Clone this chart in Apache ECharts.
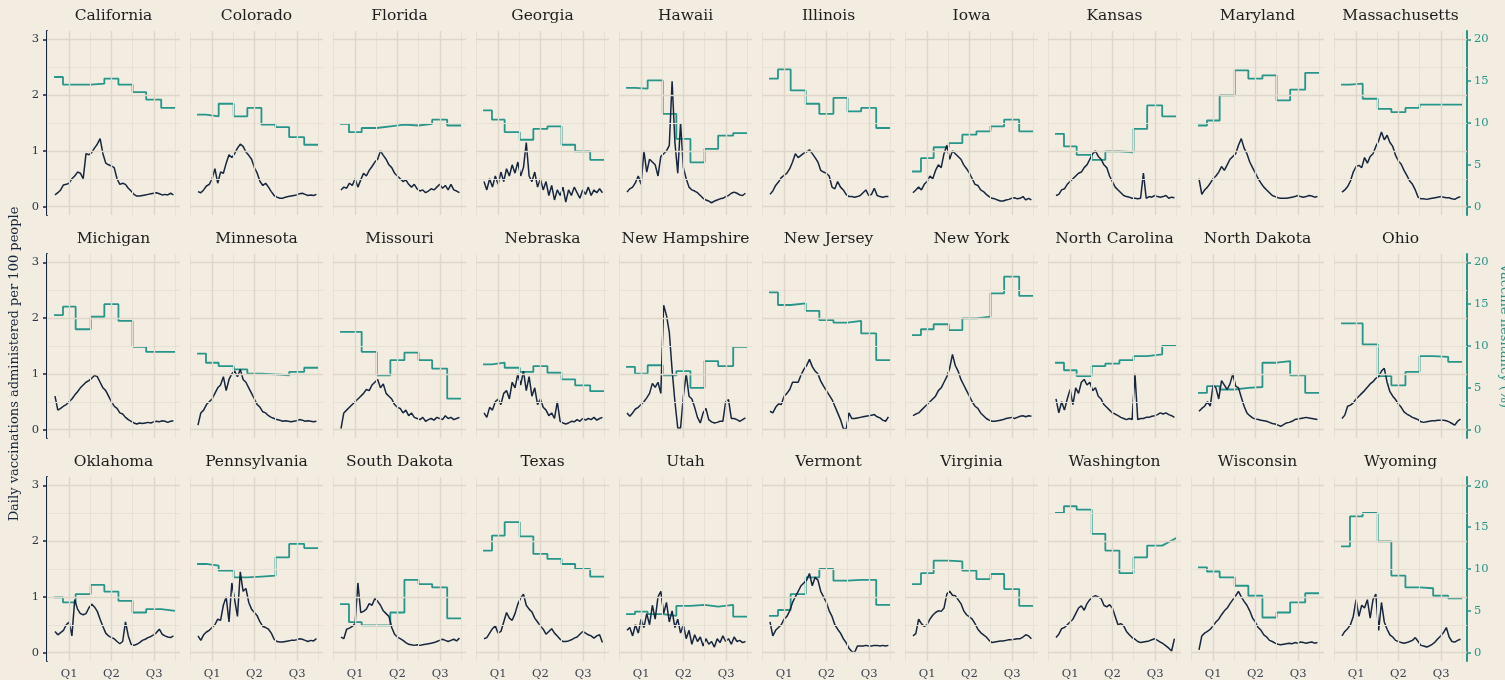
<!DOCTYPE html>
<html>
<head>
<meta charset="utf-8">
<title>Daily vaccinations by state</title>
<script src="https://cdn.jsdelivr.net/npm/echarts@6/dist/echarts.min.js"></script>
<style>
  html, body { margin: 0; padding: 0; background: #f2ece1; }
  #chart { width: 1505px; height: 680px; }
</style>
</head>
<body>
<div id="chart"></div>
<script>
// days since 1 Jan 2021 of each daily sample
const sampleDays = [-30, -24, -18, -12, -6, 0, 6, 12, 18, 24, 30, 36, 42, 48, 54, 60, 66, 72, 78, 84, 90,
  96, 102, 108, 114, 120, 126, 132, 138, 144, 150, 156, 162, 168, 174, 180, 186, 192, 198, 204, 210, 216, 222];
// survey wave boundaries (days) for the hesitancy steps
const waveDays = [-32, -13, 14, 46, 75, 105, 135, 164, 196, 226];
const quarterDays = [0, 90, 181];
const quarterLabels = ['Q1', 'Q2', 'Q3'];
const minorDays = [-46, 45, 135, 226];
const dailyTicks = [0, 1, 2, 3];
const dailyMinor = [0.5, 1.5, 2.5];
const shareTicks = [0, 5, 10, 15, 20];

const states = ['California', 'Colorado', 'Florida', 'Georgia', 'Hawaii', 'Illinois', 'Iowa', 'Kansas', 'Maryland', 'Massachusetts',
  'Michigan', 'Minnesota', 'Missouri', 'Nebraska', 'New Hampshire', 'New Jersey', 'New York', 'North Carolina', 'North Dakota', 'Ohio',
  'Oklahoma', 'Pennsylvania', 'South Dakota', 'Texas', 'Utah', 'Vermont', 'Virginia', 'Washington', 'Wisconsin', 'Wyoming'];

// daily vaccinations per 100 people (left axis) and hesitancy % per survey wave (right axis)
const californiaDaily = [0.21,0.25,0.3,0.39,0.4,0.42,0.5,0.55,0.62,0.6,0.5,0.95,0.93,0.97,1.05,1.12,1.22,0.95,0.78,0.75,0.73,0.7,0.5,0.4,0.42,0.4,0.33,0.28,0.22,0.19,0.19,0.2,0.21,0.22,0.23,0.24,0.25,0.23,0.21,0.22,0.21,0.24,0.21];
const californiaShare = [15.5,14.6,14.6,14.7,15.3,14.6,13.7,12.8,11.8,11.8];
const coloradoDaily = [0.27,0.25,0.3,0.37,0.4,0.5,0.68,0.42,0.62,0.6,0.78,0.93,0.88,0.95,1.05,1.12,1.08,0.98,0.92,0.85,0.7,0.6,0.45,0.38,0.42,0.35,0.27,0.2,0.17,0.15,0.15,0.17,0.18,0.19,0.2,0.21,0.23,0.24,0.22,0.2,0.21,0.2,0.22];
const coloradoShare = [11.0,10.8,12.3,10.8,11.8,9.8,9.5,8.3,7.4,7.4];
const floridaDaily = [0.3,0.35,0.33,0.42,0.38,0.5,0.35,0.48,0.6,0.55,0.65,0.72,0.8,0.85,1.0,0.92,0.85,0.75,0.7,0.6,0.55,0.5,0.45,0.48,0.4,0.35,0.4,0.32,0.28,0.3,0.25,0.28,0.32,0.3,0.35,0.4,0.33,0.38,0.3,0.4,0.3,0.28,0.25];
const floridaShare = [9.9,8.9,9.4,9.6,9.8,9.7,9.9,10.4,9.7,9.7];
const georgiaDaily = [0.45,0.3,0.5,0.35,0.55,0.4,0.62,0.45,0.68,0.55,0.75,0.6,0.8,0.55,0.7,1.15,0.55,0.45,0.62,0.35,0.5,0.3,0.45,0.2,0.38,0.12,0.3,0.2,0.35,0.08,0.3,0.2,0.35,0.25,0.15,0.3,0.22,0.35,0.2,0.3,0.25,0.32,0.25];
const georgiaShare = [11.5,10.4,8.9,8.0,9.3,9.6,7.4,6.6,5.6,5.6];
const hawaiiDaily = [0.26,0.32,0.35,0.43,0.55,0.4,1.0,0.62,0.85,0.8,0.75,0.55,0.9,0.95,1.0,1.1,2.25,1.15,0.6,1.5,0.7,0.5,0.35,0.3,0.28,0.25,0.2,0.15,0.12,0.1,0.07,0.1,0.12,0.14,0.15,0.18,0.2,0.24,0.26,0.24,0.21,0.2,0.24];
const hawaiiShare = [14.2,14.1,15.1,11.1,8.1,5.3,6.9,8.5,8.8,8.8];
const illinoisDaily = [0.22,0.28,0.38,0.44,0.52,0.56,0.6,0.68,0.8,0.95,0.88,0.92,0.96,0.98,1.02,0.95,0.88,0.8,0.65,0.62,0.6,0.55,0.35,0.32,0.45,0.35,0.3,0.22,0.18,0.18,0.17,0.18,0.2,0.25,0.3,0.2,0.22,0.33,0.2,0.18,0.17,0.18,0.18];
const illinoisShare = [15.3,16.4,13.9,12.3,11.1,13.0,11.4,11.8,9.4,9.4];
const iowaDaily = [0.25,0.3,0.35,0.3,0.4,0.45,0.55,0.5,0.65,0.75,0.7,0.95,1.1,0.85,1.0,0.95,0.9,0.85,0.75,0.68,0.6,0.5,0.4,0.38,0.3,0.27,0.22,0.18,0.15,0.14,0.12,0.1,0.1,0.12,0.13,0.15,0.16,0.14,0.15,0.18,0.12,0.15,0.12];
const iowaShare = [4.2,5.8,7.1,7.6,8.6,9.0,9.6,10.4,9.0,9.0];
const kansasDaily = [0.2,0.22,0.3,0.32,0.4,0.45,0.5,0.55,0.6,0.62,0.7,0.75,0.85,0.95,1.0,0.9,0.85,0.75,0.7,0.55,0.45,0.35,0.3,0.25,0.2,0.18,0.17,0.15,0.15,0.14,0.15,0.6,0.15,0.18,0.17,0.2,0.18,0.17,0.18,0.2,0.15,0.17,0.16];
const kansasShare = [8.7,7.2,6.2,5.6,6.6,6.5,9.3,12.1,10.8,10.8];
const marylandDaily = [0.5,0.22,0.3,0.35,0.42,0.5,0.55,0.62,0.72,0.65,0.75,0.85,0.9,0.95,1.1,1.22,1.05,0.95,0.8,0.7,0.6,0.5,0.42,0.35,0.3,0.25,0.2,0.18,0.16,0.15,0.15,0.15,0.16,0.17,0.18,0.2,0.18,0.17,0.18,0.2,0.19,0.17,0.18];
const marylandShare = [9.7,10.3,13.3,16.3,15.3,15.7,12.7,14.0,16.0,16.0];
const massachusettsDaily = [0.26,0.3,0.36,0.46,0.62,0.72,0.74,0.7,0.88,0.78,0.9,0.95,1.08,1.18,1.34,1.2,1.28,1.15,1.08,0.92,0.82,0.76,0.65,0.56,0.46,0.4,0.3,0.17,0.14,0.14,0.13,0.14,0.15,0.16,0.17,0.18,0.17,0.16,0.16,0.14,0.13,0.16,0.18];
const massachusettsShare = [14.6,14.7,12.9,11.7,11.3,11.8,12.2,12.2,12.2,12.2];

const michiganDaily = [0.6,0.35,0.38,0.42,0.45,0.5,0.55,0.62,0.68,0.75,0.8,0.85,0.88,0.92,0.97,0.95,0.85,0.75,0.7,0.6,0.5,0.42,0.38,0.3,0.28,0.22,0.18,0.15,0.12,0.1,0.12,0.11,0.12,0.13,0.12,0.14,0.15,0.14,0.16,0.15,0.13,0.15,0.16];
const michiganShare = [13.7,14.7,12.0,13.5,15.0,13.0,9.9,9.3,9.3,9.3];
const minnesotaDaily = [0.08,0.3,0.35,0.45,0.5,0.55,0.65,0.75,0.8,0.95,0.7,0.9,1.0,1.05,0.95,1.08,0.9,0.85,0.75,0.65,0.55,0.45,0.4,0.32,0.3,0.25,0.22,0.2,0.18,0.17,0.15,0.16,0.15,0.14,0.15,0.16,0.18,0.17,0.15,0.16,0.15,0.14,0.15];
const minnesotaShare = [9.1,8.0,7.6,7.2,6.7,6.6,6.5,6.9,7.4,7.4];
const missouriDaily = [0.02,0.3,0.35,0.4,0.45,0.5,0.55,0.6,0.65,0.72,0.7,0.8,0.85,0.9,0.75,0.82,0.65,0.6,0.55,0.45,0.4,0.38,0.3,0.35,0.25,0.3,0.22,0.2,0.18,0.22,0.15,0.18,0.2,0.17,0.22,0.2,0.18,0.25,0.2,0.22,0.18,0.2,0.22];
const missouriShare = [11.7,11.7,9.3,6.5,8.3,9.2,8.3,7.3,3.7,3.7];
const nebraskaDaily = [0.3,0.22,0.4,0.35,0.5,0.55,0.45,0.65,0.7,0.55,0.85,0.75,1.0,0.8,1.05,0.7,0.95,0.6,0.75,0.45,0.55,0.4,0.35,0.25,0.3,0.2,0.5,0.15,0.12,0.1,0.12,0.15,0.14,0.18,0.15,0.2,0.17,0.2,0.18,0.22,0.17,0.2,0.22];
const nebraskaShare = [7.8,8.0,7.4,6.9,7.6,6.8,6.0,5.3,4.6,4.6];
const newHampshireDaily = [0.3,0.24,0.3,0.37,0.4,0.45,0.5,0.57,0.65,0.83,0.76,0.85,0.65,2.23,2.05,1.75,1.07,0.5,0.03,0.03,0.6,1.0,0.6,0.55,0.4,0.22,0.12,0.3,0.38,0.18,0.14,0.12,0.13,0.15,0.15,0.5,0.54,0.2,0.2,0.18,0.15,0.18,0.21];
const newHampshireShare = [7.5,6.7,7.7,6.5,7.0,5.0,8.2,7.6,9.9,9.9];
const newJerseyDaily = [0.33,0.3,0.4,0.46,0.45,0.6,0.65,0.72,0.85,0.85,0.85,0.98,1.08,1.15,1.26,1.13,1.05,1.0,0.87,0.78,0.7,0.62,0.54,0.42,0.3,0.18,0.02,0.0,0.3,0.2,0.2,0.21,0.22,0.23,0.24,0.25,0.26,0.27,0.23,0.21,0.17,0.15,0.23];
const newJerseyShare = [16.4,14.9,15.1,14.2,13.1,12.8,13.0,11.5,8.3,8.3];
const newYorkDaily = [0.25,0.28,0.3,0.35,0.4,0.45,0.5,0.55,0.6,0.7,0.75,0.85,0.95,1.1,1.35,1.15,1.05,0.9,0.8,0.7,0.6,0.5,0.42,0.38,0.3,0.25,0.2,0.17,0.15,0.15,0.16,0.17,0.18,0.2,0.21,0.22,0.2,0.22,0.24,0.25,0.23,0.25,0.24];
const newYorkShare = [11.3,12.0,12.6,11.9,13.3,13.5,16.3,18.3,16.0,16.0];
const northCarolinaDaily = [0.55,0.3,0.5,0.35,0.55,0.72,0.45,0.75,0.65,0.85,0.9,0.8,0.85,0.7,0.75,0.6,0.55,0.45,0.4,0.35,0.3,0.28,0.25,0.22,0.2,0.18,0.2,0.18,1.0,0.18,0.2,0.2,0.22,0.22,0.24,0.25,0.27,0.3,0.28,0.3,0.27,0.25,0.22];
const northCarolinaShare = [8.0,7.1,6.4,7.6,7.9,8.3,8.8,9.0,10.0,10.0];
const northDakotaDaily = [0.33,0.38,0.42,0.5,0.42,0.8,0.75,0.55,0.88,0.8,0.72,0.82,1.0,0.78,0.75,0.58,0.42,0.3,0.25,0.21,0.19,0.18,0.17,0.16,0.15,0.13,0.11,0.1,0.08,0.06,0.09,0.12,0.13,0.15,0.18,0.19,0.2,0.21,0.22,0.21,0.2,0.19,0.18];
const northDakotaShare = [4.4,5.2,4.8,5.0,5.1,8.0,8.2,6.5,4.4,4.4];
const ohioDaily = [0.2,0.26,0.42,0.44,0.48,0.55,0.6,0.65,0.7,0.76,0.82,0.86,0.92,0.95,1.05,1.1,0.85,0.68,0.6,0.54,0.46,0.4,0.32,0.28,0.25,0.22,0.2,0.18,0.14,0.13,0.14,0.15,0.16,0.16,0.17,0.17,0.17,0.16,0.14,0.11,0.08,0.15,0.19];
const ohioShare = [12.7,12.7,10.2,6.4,5.3,6.9,8.8,8.7,8.1,8.1];

const oklahomaDaily = [0.38,0.32,0.36,0.4,0.5,0.55,0.3,0.95,0.78,0.7,0.68,0.7,0.8,0.87,0.82,0.74,0.6,0.47,0.35,0.3,0.27,0.25,0.2,0.16,0.2,0.55,0.3,0.15,0.13,0.15,0.18,0.22,0.24,0.27,0.29,0.32,0.36,0.42,0.33,0.3,0.28,0.27,0.3];
const oklahomaShare = [6.6,6.0,7.0,8.1,7.3,6.2,4.8,5.2,5.0,5.0];
const pennsylvaniaDaily = [0.3,0.22,0.32,0.37,0.4,0.45,0.5,0.6,0.58,0.85,1.0,0.55,1.25,0.95,0.65,1.45,1.1,1.15,0.9,0.78,0.72,0.66,0.55,0.47,0.45,0.42,0.35,0.24,0.2,0.19,0.19,0.2,0.21,0.22,0.22,0.23,0.25,0.24,0.22,0.2,0.22,0.21,0.25];
const pennsylvaniaShare = [10.6,10.4,9.8,9.0,9.1,9.2,11.4,13.0,12.5,12.5];
const southDakotaDaily = [0.28,0.25,0.42,0.44,0.47,0.52,1.25,0.72,0.74,0.78,0.88,0.85,0.97,0.92,0.85,0.75,0.7,0.65,0.45,0.33,0.28,0.25,0.22,0.18,0.15,0.14,0.13,0.14,0.13,0.14,0.15,0.16,0.17,0.18,0.2,0.22,0.24,0.22,0.2,0.22,0.24,0.21,0.26];
const southDakotaShare = [5.8,3.65,3.25,3.25,4.8,8.7,8.2,7.8,4.1,4.1];
const texasDaily = [0.25,0.27,0.35,0.43,0.48,0.35,0.38,0.55,0.72,0.62,0.58,0.7,0.87,0.98,1.05,0.85,0.78,0.73,0.62,0.55,0.48,0.42,0.33,0.38,0.43,0.35,0.3,0.24,0.2,0.2,0.21,0.23,0.26,0.28,0.33,0.38,0.35,0.32,0.3,0.26,0.3,0.32,0.18];
const texasShare = [12.2,14.0,15.6,13.9,11.8,11.2,10.6,10.0,9.1,9.1];
const utahDaily = [0.4,0.45,0.3,0.5,0.35,0.6,0.45,0.7,0.5,0.85,0.6,1.0,1.1,0.7,0.9,0.55,0.75,0.45,0.6,0.35,0.5,0.25,0.4,0.15,0.32,0.2,0.28,0.12,0.25,0.15,0.2,0.1,0.25,0.18,0.3,0.2,0.25,0.15,0.28,0.2,0.22,0.18,0.2];
const utahShare = [4.6,4.9,4.6,4.4,5.6,5.7,5.5,5.7,4.3,4.3];
const vermontDaily = [0.55,0.3,0.4,0.45,0.5,0.6,0.65,0.75,0.9,1.0,1.1,1.2,1.25,1.3,1.42,1.2,1.35,1.3,1.1,1.0,0.9,0.75,0.65,0.5,0.42,0.35,0.25,0.18,0.08,0.02,0.0,0.12,0.12,0.12,0.13,0.12,0.12,0.13,0.13,0.12,0.13,0.12,0.13];
const vermontShare = [4.4,5.1,7.0,9.0,10.0,8.6,8.7,8.7,5.7,5.7];
const virginiaDaily = [0.3,0.34,0.6,0.52,0.47,0.5,0.6,0.67,0.72,0.75,0.74,0.8,1.05,1.1,1.03,1.02,0.95,0.88,0.75,0.68,0.64,0.6,0.52,0.42,0.36,0.32,0.28,0.22,0.18,0.19,0.2,0.21,0.21,0.22,0.23,0.23,0.24,0.25,0.25,0.28,0.32,0.3,0.25];
const virginiaShare = [8.2,9.5,11.0,10.9,9.8,8.8,9.4,7.6,5.6,5.6];
const washingtonDaily = [0.27,0.33,0.43,0.45,0.5,0.55,0.6,0.7,0.8,0.84,0.76,0.88,0.95,1.0,1.02,1.0,0.97,0.85,0.82,0.86,0.8,0.65,0.5,0.52,0.48,0.38,0.32,0.27,0.24,0.2,0.18,0.19,0.2,0.21,0.23,0.25,0.22,0.19,0.16,0.12,0.08,0.03,0.25];
const washingtonShare = [16.7,17.5,17.1,14.2,12.2,9.5,11.4,12.8,12.8,13.7];
const wisconsinDaily = [0.05,0.3,0.35,0.38,0.42,0.48,0.55,0.6,0.68,0.75,0.8,0.88,0.95,1.02,1.1,1.0,0.92,0.85,0.75,0.62,0.55,0.45,0.4,0.32,0.28,0.22,0.2,0.17,0.15,0.14,0.15,0.16,0.17,0.16,0.18,0.17,0.19,0.18,0.17,0.18,0.19,0.17,0.18];
const wisconsinShare = [10.2,9.7,9.0,8.0,6.8,4.2,4.8,6.0,7.1,7.1];
const wyomingDaily = [0.3,0.38,0.43,0.5,0.65,0.95,0.65,0.85,0.8,0.95,0.62,0.95,1.05,0.4,0.9,0.55,0.42,0.32,0.28,0.22,0.2,0.18,0.17,0.18,0.2,0.22,0.27,0.2,0.13,0.12,0.1,0.12,0.15,0.19,0.25,0.3,0.36,0.45,0.28,0.2,0.19,0.22,0.24];
const wyomingShare = [12.7,16.3,16.7,13.3,9.2,7.8,7.7,6.8,6.5,6.5];

const dailyByState = [californiaDaily, coloradoDaily, floridaDaily, georgiaDaily, hawaiiDaily, illinoisDaily, iowaDaily, kansasDaily, marylandDaily, massachusettsDaily,
  michiganDaily, minnesotaDaily, missouriDaily, nebraskaDaily, newHampshireDaily, newJerseyDaily, newYorkDaily, northCarolinaDaily, northDakotaDaily, ohioDaily,
  oklahomaDaily, pennsylvaniaDaily, southDakotaDaily, texasDaily, utahDaily, vermontDaily, virginiaDaily, washingtonDaily, wisconsinDaily, wyomingDaily];
const shareByState = [californiaShare, coloradoShare, floridaShare, georgiaShare, hawaiiShare, illinoisShare, iowaShare, kansasShare, marylandShare, massachusettsShare,
  michiganShare, minnesotaShare, missouriShare, nebraskaShare, newHampshireShare, newJerseyShare, newYorkShare, northCarolinaShare, northDakotaShare, ohioShare,
  oklahomaShare, pennsylvaniaShare, southDakotaShare, texasShare, utahShare, vermontShare, virginiaShare, washingtonShare, wisconsinShare, wyomingShare];

const NAVY = '#15263e';
const TEAL = '#27958a';
const GRID_MAJOR = '#ddd6c9';
const GRID_MINOR = '#e7e1d5';
const FONT = 'DejaVu Serif';

document.addEventListener('DOMContentLoaded', function() {
  initChart();
});

// hesitancy steps: flat per wave, last wave runs to the final value
function stepPoints(values) {
  const pts = [];
  for (let k = 0; k < waveDays.length - 1; k++) {
    pts.push([waveDays[k], values[k]]);
    pts.push([waveDays[k + 1], k === waveDays.length - 2 ? values[k + 1] : values[k]]);
  }
  return pts;
}

function gridLines() {
  const major = { color: GRID_MAJOR, width: 1.4, type: 'solid' };
  const minor = { color: GRID_MINOR, width: 1, type: 'solid' };
  return [].concat(
    minorDays.map(d => ({ xAxis: d, lineStyle: minor })),
    dailyMinor.map(v => ({ yAxis: v, lineStyle: minor })),
    quarterDays.map(d => ({ xAxis: d, lineStyle: major })),
    dailyTicks.map(v => ({ yAxis: v, lineStyle: major }))
  );
}

function initChart() {
  const chart = echarts.init(document.getElementById('chart'));
  const cols = 10;
  const left0 = 47, pitchX = 143, panelW = 133;
  const top0 = 31, pitchY = 223, panelH = 184;

  const grids = [], xAxes = [], yAxes = [], series = [], graphics = [];

  states.forEach(function(name, i) {
    const row = Math.floor(i / cols);
    const col = i % cols;
    const left = left0 + col * pitchX;
    const top = top0 + row * pitchY;
    const firstCol = col === 0;
    const lastCol = col === cols - 1;
    const lastRow = row === 2;

    grids.push({ left: left, top: top, width: panelW, height: panelH });

    // panel title
    graphics.push({
      type: 'text', x: left + panelW / 2, y: top - 15,
      style: { text: name, font: '15.5px "' + FONT + '"', fill: '#1d1d1d',
        align: 'center', verticalAlign: 'middle', textAlign: 'center', textVerticalAlign: 'middle' }
    });

    xAxes.push({
      gridIndex: i, type: 'value', min: -47, max: 236,
      axisLine: { show: false, onZero: false }, axisTick: { show: false }, splitLine: { show: false },
      axisLabel: {
        show: lastRow, customValues: quarterDays, margin: 7,
        color: '#3b4250', fontFamily: FONT, fontSize: 11.5,
        formatter: function(v) { return quarterLabels[quarterDays.indexOf(v)] || ''; }
      }
    });

    yAxes.push({
      gridIndex: i, type: 'value', position: 'left', min: -0.15, max: 3.15,
      splitLine: { show: false },
      axisLine: { show: firstCol, onZero: false, lineStyle: { color: NAVY, width: 2 } },
      axisTick: { show: firstCol, customValues: dailyTicks, length: 4, lineStyle: { color: NAVY, width: 1.5 } },
      axisLabel: { show: firstCol, customValues: dailyTicks, margin: 8, color: '#2b3444', fontFamily: FONT, fontSize: 11.5 }
    });
    yAxes.push({
      gridIndex: i, type: 'value', position: 'right', min: -1, max: 21,
      splitLine: { show: false },
      axisLine: { show: lastCol, onZero: false, lineStyle: { color: TEAL, width: 2 } },
      axisTick: { show: lastCol, customValues: shareTicks, length: 4, lineStyle: { color: TEAL, width: 1.5 } },
      axisLabel: { show: lastCol, customValues: shareTicks, margin: 7, color: TEAL, fontFamily: FONT, fontSize: 11.5 }
    });

    // background grid lines
    series.push({
      type: 'line', xAxisIndex: i, yAxisIndex: 2 * i, data: [], z: 1, silent: true,
      markLine: { silent: true, symbol: ['none', 'none'], label: { show: false },
        emphasis: { disabled: true }, animation: false, data: gridLines() }
    });
    series.push({
      name: name + ' hesitancy', type: 'line', xAxisIndex: i, yAxisIndex: 2 * i + 1, z: 2,
      data: stepPoints(shareByState[i]), showSymbol: false, silent: true,
      lineStyle: { color: TEAL, width: 1.8 }
    });
    series.push({
      name: name + ' daily', type: 'line', xAxisIndex: i, yAxisIndex: 2 * i, z: 3,
      data: sampleDays.map(function(d, k) { return [d, dailyByState[i][k]]; }),
      showSymbol: false, silent: true,
      lineStyle: { color: NAVY, width: 1.5 }
    });
  });

  // axis titles
  graphics.push({
    type: 'text', x: 15, y: 364, rotation: Math.PI / 2,
    style: { text: 'Daily vaccinations administered per 100 people', font: '13px "' + FONT + '"', fill: NAVY,
      align: 'center', verticalAlign: 'middle', textAlign: 'center', textVerticalAlign: 'middle' }
  });
  graphics.push({
    type: 'text', x: 1504, y: 336, rotation: -Math.PI / 2,
    style: { text: 'Vaccine hesitancy (%)', font: '13px "' + FONT + '"', fill: TEAL,
      align: 'center', verticalAlign: 'middle', textAlign: 'center', textVerticalAlign: 'middle' }
  });

  chart.setOption({
    backgroundColor: '#f2ece1',
    animation: false,
    grid: grids,
    xAxis: xAxes,
    yAxis: yAxes,
    series: series,
    graphic: graphics
  });

  window.addEventListener('resize', function() {
    chart.resize();
  });
}
</script>
</body>
</html>
